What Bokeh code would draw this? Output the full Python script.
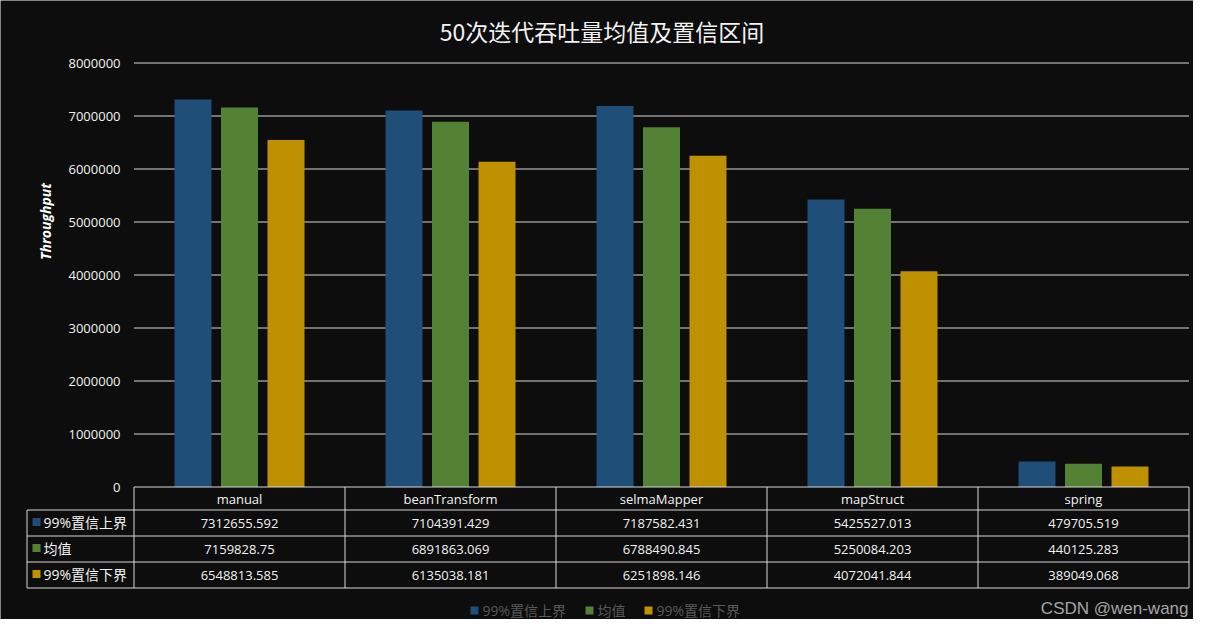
import math
from bokeh.plotting import figure
from bokeh.models import Range1d, ColumnDataSource
from bokeh.core.properties import value
from bokeh.embed import file_html
from bokeh.resources import INLINE

# ---------------- data ----------------
title_text = "50次迭代吞吐量均值及置信区间"
categories = ["manual", "beanTransform", "selmaMapper", "mapStruct", "spring"]
series_names = ["99%置信上界", "均值", "99%置信下界"]
upper = [7312655.592, 7104391.429, 7187582.431, 5425527.013, 479705.519]
mean = [7159828.75, 6891863.069, 6788490.845, 5250084.203, 440125.283]
lower = [6548813.585, 6135038.181, 6251898.146, 4072041.844, 389049.068]
y_ticks = [0, 1000000, 2000000, 3000000, 4000000, 5000000, 6000000, 7000000, 8000000]
y_axis_label = "Throughput"
watermark = "CSDN @wen-wang"

# ---------------- style ----------------
colors = ["#1f4e79", "#548235", "#bf9000"]
BG = "#0d0d0d"
LINE = "#d9d9d9"
TXT = "#f2f2f2"
LATIN = value("Open Sans, Noto Sans CJK SC")
CJK = value("Noto Sans CJK SC")

W, H = 1193, 619
X0C, SXP = 133.5, 211.0      # canvas px of category-edge 0, px per category
Y0C, SYP = 486.5, 53.0       # canvas px of value 0, px per 1e6


def xd(cx):
    return (cx - X0C) / SXP


def yd(cy):
    return (Y0C - cy) / SYP * 1e6


p = figure(width=W, height=H, output_backend="svg", toolbar_location=None,
           x_axis_type=None, y_axis_type=None,
           x_range=Range1d(xd(0), xd(W)), y_range=Range1d(yd(H), yd(0)),
           min_border=0, outline_line_color=None,
           background_fill_color=BG, border_fill_color=BG)

n = len(categories)

# gridlines
gy = [t for t in y_ticks if t > 0]
p.segment(x0=[0] * len(gy), x1=[n] * len(gy), y0=gy, y1=gy,
          line_color=LINE, line_width=1)

# y tick labels
p.text(x=[xd(120)] * len(y_ticks), y=y_ticks, text=[str(t) for t in y_ticks],
       text_align="right", text_baseline="middle", text_font=LATIN,
       text_font_size="13px", text_color=TXT)

# y axis title
p.text(x=[xd(45)], y=[yd(221)], text=[y_axis_label], angle=math.pi / 2,
       text_align="center", text_baseline="middle", text_font=LATIN,
       text_font_size="14px", text_font_style="bold italic", text_color="#ffffff")

# bars
offsets = [-0.2204, 0.0, 0.2204]
bar_w = 37 / SXP
for vals, off, col, name in zip([upper, mean, lower], offsets, colors, series_names):
    src = ColumnDataSource(dict(x=[i + 0.5 + off for i in range(n)], top=vals,
                                cat=categories))
    p.vbar(x="x", top="top", bottom=0, width=bar_w, source=src,
           fill_color=col, line_color=None)

# title
p.text(x=[xd(601.5)], y=[yd(30)], text=[title_text], text_align="center",
       text_baseline="middle", text_font=CJK, text_font_size="23px",
       text_color=TXT)

# ---------------- data table ----------------
row_lines = [509.5, 535.5, 561.5, 587.5]
left_x = xd(26.5)
# header top line
p.segment(x0=[0], x1=[n], y0=[0], y1=[0], line_color=LINE, line_width=1)
# row lines
p.segment(x0=[left_x] * len(row_lines), x1=[n] * len(row_lines),
          y0=[yd(r) for r in row_lines], y1=[yd(r) for r in row_lines],
          line_color=LINE, line_width=1)
# vertical lines
vx = list(range(n + 1))
p.segment(x0=vx, x1=vx, y0=[0] * len(vx), y1=[yd(587.5)] * len(vx),
          line_color=LINE, line_width=1)
p.segment(x0=[left_x], x1=[left_x], y0=[yd(509.5)], y1=[yd(587.5)],
          line_color=LINE, line_width=1)

# header texts
p.text(x=[i + 0.5 for i in range(n)], y=[yd(498)] * n, text=categories,
       text_align="center", text_baseline="middle", text_font=LATIN,
       text_font_size="13px", text_color=TXT)

row_centers = [522.5, 548.5, 574.5]
for vals, rc, col, name in zip([upper, mean, lower], row_centers, colors, series_names):
    p.text(x=[i + 0.5 for i in range(n)], y=[yd(rc)] * n, text=[str(v) for v in vals],
           text_align="center", text_baseline="middle", text_font=LATIN,
           text_font_size="13px", text_color=TXT)
    p.scatter(x=[xd(36)], y=[yd(rc - 1)], marker="square", size=8,
              fill_color=col, line_color=None)
    p.text(x=[xd(43)], y=[yd(rc - 1)], text=[name], text_align="left",
           text_baseline="middle", text_font=LATIN, text_font_size="14px",
           text_color=TXT)

# ---------------- legend ----------------
legend_sq = [474, 589, 648]
legend_tx = [482, 597, 656]
for sx, tx, col, name in zip(legend_sq, legend_tx, colors, series_names):
    p.scatter(x=[xd(sx)], y=[yd(610)], marker="square", size=8,
              fill_color=col, line_color=None)
    p.text(x=[xd(tx)], y=[yd(610)], text=[name], text_align="left",
           text_baseline="middle", text_font=LATIN, text_font_size="14px",
           text_color="#595959")

# watermark
p.text(x=[xd(1188)], y=[yd(608)], text=[watermark], text_align="right",
       text_baseline="middle", text_font=value("Liberation Sans"),
       text_font_size="17px", text_color="#a6a6a6")

open("out.html", "w").write(file_html(p, INLINE))
